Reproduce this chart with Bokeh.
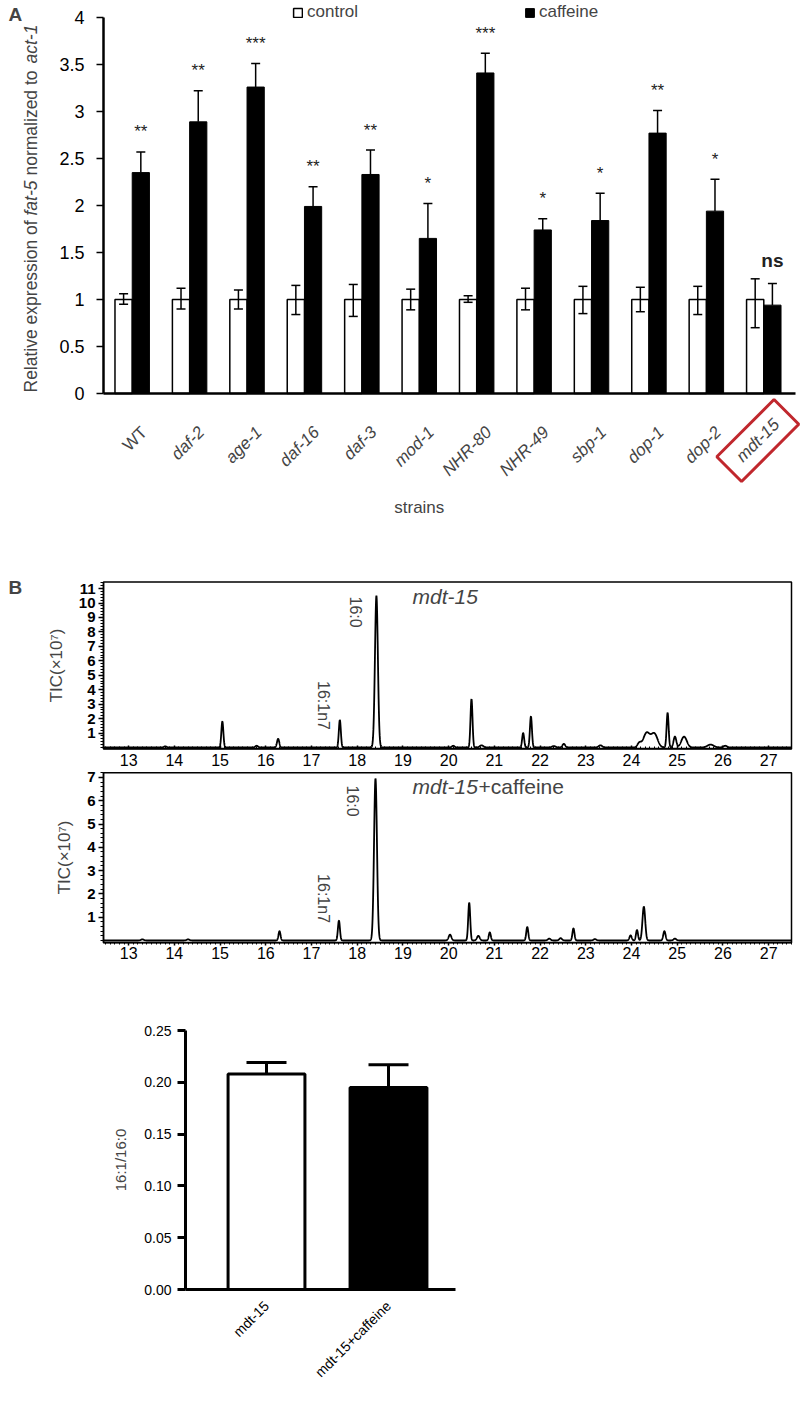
import numpy as np
from math import pi
from bokeh.plotting import figure
from bokeh.models import (ColumnDataSource, Range1d, FixedTicker, Whisker, TeeHead, Label,
                          LabelSet, Legend, LegendItem, NumeralTickFormatter,
                          CustomJSTickFormatter, BoxAnnotation, LinearAxis)
from bokeh.layouts import column
from bokeh.embed import file_html
from bokeh.resources import INLINE
from bokeh.core.properties import value

FONT = "Liberation Sans"

# ---------------- Panel A data ----------------
strains = ["WT", "daf-2", "age-1", "daf-16", "daf-3", "mod-1", "NHR-80", "NHR-49",
           "sbp-1", "dop-1", "dop-2", "mdt-15"]
control_mean = [1.0, 1.0, 1.0, 1.0, 1.0, 1.0, 1.0, 1.0, 1.0, 1.0, 1.0, 1.0]
control_err_up = [0.06, 0.12, 0.10, 0.15, 0.16, 0.11, 0.04, 0.12, 0.14, 0.13, 0.14, 0.22]
control_err_dn = [0.05, 0.10, 0.10, 0.16, 0.18, 0.11, 0.03, 0.11, 0.15, 0.13, 0.16, 0.30]
caffeine_mean = [2.35, 2.89, 3.26, 1.99, 2.33, 1.65, 3.41, 1.74, 1.84, 2.77, 1.94, 0.94]
caffeine_err = [0.22, 0.33, 0.25, 0.21, 0.26, 0.37, 0.21, 0.12, 0.29, 0.24, 0.34, 0.23]
signif = ["**", "**", "***", "**", "**", "*", "***", "*", "*", "**", "*", "ns"]
yticks_a = [0, 0.5, 1, 1.5, 2, 2.5, 3, 3.5, 4]

# ---------------- Panel B chromatogram peaks (retention time, height x10^7, width) ----------------
rt_mdt15 = [13.8, 15.05, 15.8, 16.27, 17.62, 18.42, 20.1, 20.5, 20.72, 21.63, 21.8, 22.3,
            22.52, 23.32, 24.17, 24.33, 24.5, 24.79, 24.95, 25.15, 25.73, 26.05]
h_mdt15 = [0.08, 1.8, 0.12, 0.6, 1.9, 10.5, 0.12, 3.35, 0.15, 1.0, 2.15, 0.1,
           0.25, 0.15, 0.3, 1.0, 0.95, 2.4, 0.75, 0.75, 0.2, 0.12]
w_mdt15 = [0.03, 0.022, 0.03, 0.025, 0.022, 0.032, 0.03, 0.022, 0.04, 0.022, 0.022, 0.04,
           0.03, 0.04, 0.04, 0.07, 0.07, 0.022, 0.03, 0.06, 0.07, 0.04]

rt_caf = [13.3, 14.3, 16.3, 17.6, 18.4, 20.03, 20.45, 20.65, 20.9, 21.72, 22.2, 22.45,
          22.73, 23.2, 23.98, 24.12, 24.27, 24.72, 24.95]
h_caf = [0.05, 0.05, 0.4, 0.85, 6.95, 0.25, 1.62, 0.2, 0.35, 0.58, 0.08, 0.1,
         0.52, 0.06, 0.22, 0.45, 1.45, 0.4, 0.08]
w_caf = [0.03, 0.03, 0.022, 0.022, 0.032, 0.03, 0.022, 0.03, 0.022, 0.022, 0.03, 0.03,
         0.022, 0.03, 0.025, 0.022, 0.03, 0.025, 0.03]

xticks_b = list(range(13, 28))
rt_start, rt_end = 12.45, 27.5

# ---------------- Panel B bar data ----------------
groups_b = ["mdt-15", "mdt-15+caffeine"]
ratio_b = [0.208, 0.195]
ratio_err_b = [0.011, 0.022]
yticks_b = [0.0, 0.05, 0.10, 0.15, 0.20, 0.25]

# ---------------- page geometry (pixels) ----------------
W = 800


def base_fig(width, height, xr, yr):
    p = figure(width=width, height=height, output_backend="svg", toolbar_location=None,
               x_range=xr, y_range=yr, min_border=0)
    p.grid.visible = False
    p.outline_line_color = None
    for ax in p.axis:
        ax.major_label_text_font = FONT
        ax.axis_label_text_font = FONT
        ax.axis_label_text_font_style = "normal"
        ax.major_label_text_color = "black"
    return p


# ================= Panel A =================
n = len(strains)
A_TOP, A_H = 0, 540
A_FL, A_FR = 103, 792            # plotting area left/right (page px)
A_ZERO, A_PX = 393, 94.0         # y=0 position and px per unit
sA = (A_FR - A_FL) / n
xrA = Range1d(-0.5 - A_FL / sA, -0.5 + (W - A_FL) / sA)
yrA = Range1d(-(A_TOP + A_H - A_ZERO) / A_PX, (A_ZERO - A_TOP) / A_PX)
p1 = base_fig(W, A_H, xrA, yrA)

idx = np.arange(n)
src_a = ColumnDataSource(dict(
    xc=idx - 0.15, xf=idx + 0.15,
    ctrl=control_mean, caf=caffeine_mean,
    c_up=[m + e for m, e in zip(control_mean, control_err_up)],
    c_lo=[m - e for m, e in zip(control_mean, control_err_dn)],
    f_up=[m + e for m, e in zip(caffeine_mean, caffeine_err)],
))
r_ctrl = p1.vbar(x="xc", top="ctrl", width=0.3, fill_color="white", line_color="black",
                 line_width=1.5, source=src_a)
r_caf = p1.vbar(x="xf", top="caf", width=0.3, fill_color="black", line_color="black",
                line_width=1, source=src_a)
p1.add_layout(Whisker(source=src_a, base="xc", upper="c_up", lower="c_lo", line_width=1.5,
                      upper_head=TeeHead(size=9, line_width=1.5),
                      lower_head=TeeHead(size=9, line_width=1.5), level="annotation"))
p1.add_layout(Whisker(source=src_a, base="xf", upper="f_up", lower="caf", line_width=1.5,
                      upper_head=TeeHead(size=9, line_width=1.5), lower_head=None,
                      level="annotation"))

f_up = src_a.data["f_up"]
stars_src = ColumnDataSource(dict(
    x=[v for v, s in zip(idx + 0.15, signif) if s != "ns"],
    y=[v for v, s in zip(f_up, signif) if s != "ns"],
    t=[s for s in signif if s != "ns"]))
ns_src = ColumnDataSource(dict(
    x=[v for v, s in zip(idx + 0.15, signif) if s == "ns"],
    y=[v for v, s in zip(f_up, signif) if s == "ns"],
    t=[s for s in signif if s == "ns"]))
p1.text(x="x", y="y", text="t", source=stars_src, text_align="center",
        text_baseline="alphabetic", y_offset=-20, text_font=value(FONT),
        text_font_size="17px", text_color="#222222")
p1.text(x="x", y="y", text="t", source=ns_src, text_align="center",
        text_baseline="alphabetic", y_offset=-23, text_font=value(FONT),
        text_font_size="19px", text_font_style="bold", text_color="#222222")

xa = p1.xaxis[0]
xa.fixed_location = 0
xa.bounds = (-0.5, n - 0.45)
xa.ticker = FixedTicker(ticks=[])
xa.axis_line_width = 2.5
xa.major_tick_line_color = None
xa.minor_tick_line_color = None

ya = p1.yaxis[0]
ya.fixed_location = -0.5
ya.bounds = (0, 4)
ya.ticker = FixedTicker(ticks=yticks_a)
ya.formatter = CustomJSTickFormatter(code="return tick.toString()")
ya.axis_line_width = 2.5
ya.major_tick_out = 7
ya.major_tick_in = 0
ya.major_tick_line_width = 1.5
ya.minor_tick_line_color = None
ya.major_label_text_font_size = "18px"
ya.major_label_standoff = 12

# strain labels (rotated)
lab_src = ColumnDataSource(dict(
    x=list(idx[:-1]), y=[0] * (n - 1), t=strains[:-1],
    st=["normal"] + ["italic"] * (n - 2)))
p1.add_layout(LabelSet(x="x", y="y", text="t", source=lab_src, angle=pi / 4,
                       text_align="right", text_baseline="middle", x_offset=12, y_offset=-36,
                       text_font=value(FONT), text_font_size="17px", text_font_style="st"))
p1.add_layout(Label(x=idx[-1], y=0, text=strains[-1], angle=pi / 4, text_align="center",
                    text_baseline="middle", x_offset=-6, y_offset=-47,
                    text_font=FONT, text_font_size="17px", text_font_style="italic",
                    border_line_color="#c0272d", border_line_width=3,
                    padding=dict(left=14, right=14, top=8, bottom=8)))
p1.add_layout(Label(x=5.0, y=0, y_offset=-114, text="strains", text_align="center",
                    text_baseline="middle", text_font=FONT, text_font_size="17px"))

# y axis title (mixed italic) built from pieces
ylab_parts = ["Relative expression of ", "fat-5", " normalized to ", "act-1"]
ylab_styles = ["normal", "italic", "normal", "italic"]
ylab_pos = [1, 178, 218, 330]     # px above the y=0 line
for t, s, pos in zip(ylab_parts, ylab_styles, ylab_pos):
    p1.add_layout(Label(x=30, y=0, x_units="screen", y_offset=pos, text=t,
                        angle=pi / 2, text_align="left", text_baseline="middle",
                        text_font=FONT, text_font_size="17.5px", text_font_style=s))

p1.add_layout(Label(x=8, y=4.03, x_units="screen", text="A", text_baseline="middle",
                    text_font=FONT, text_font_size="19px", text_font_style="bold"))

common_leg = dict(border_line_color=None, background_fill_alpha=0, padding=0, margin=0,
                  glyph_width=11, glyph_height=11, label_text_font=FONT,
                  label_text_font_size="17px", label_standoff=4, label_height=18)
p1.add_layout(Legend(items=[LegendItem(label="control", renderers=[r_ctrl])],
                     location=(292, A_H - 22), **common_leg))
p1.add_layout(Legend(items=[LegendItem(label="caffeine", renderers=[r_caf])],
                     location=(524, A_H - 22), **common_leg))


# ================= Panel B chromatograms =================
B_FL, B_PX = 103, (791 - 103) / (rt_end - rt_start)
MINOR_X = [round(12.5 + 0.1 * i, 2) for i in range(151)]


def chromatogram(rts, hs, ws, page_top, height, zero_page, px_unit, box_top, yticks,
                 show_x_labels):
    xr = Range1d(rt_start - B_FL / B_PX, rt_start + (W - B_FL) / B_PX)
    yr = Range1d(-(page_top + height - zero_page) / px_unit, (zero_page - page_top) / px_unit)
    p = base_fig(W, height, xr, yr)
    xg = np.linspace(rt_start, rt_end, 5000)
    yg = np.zeros_like(xg)
    for c, h, w in zip(rts, hs, ws):
        yg += h * np.exp(-0.5 * ((xg - c) / w) ** 2)
    bottom = -0.1
    p.add_layout(BoxAnnotation(left=rt_start, right=rt_end, bottom=bottom, top=box_top,
                               fill_alpha=0, line_color="black", line_alpha=1,
                               line_width=1.5))
    p.line(xg, yg, line_color="black", line_width=1.8)
    xa = p.xaxis[0]
    xa.fixed_location = bottom
    xa.bounds = (rt_start, rt_end)
    xa.ticker = FixedTicker(ticks=xticks_b, minor_ticks=MINOR_X)
    xa.axis_line_width = 1.5
    xa.major_tick_line_width = 1.5
    xa.major_label_text_font_size = "16px"
    xa.major_label_standoff = 1
    if show_x_labels:
        xa.major_tick_out = 3
        xa.major_tick_in = 0
        xa.minor_tick_out = 2
        xa.minor_tick_in = 0
    else:
        xa.major_tick_out = 0
        xa.major_tick_in = 3
        xa.minor_tick_out = 0
        xa.minor_tick_in = 2
        xa.formatter = CustomJSTickFormatter(code="return ''")
    ya = p.yaxis[0]
    ya.fixed_location = rt_start
    ya.bounds = (bottom, box_top)
    ya.ticker = FixedTicker(ticks=yticks,
                            minor_ticks=[round(0.2 * i, 2) for i in range(int(box_top / 0.2) + 1)])
    ya.axis_line_width = 1.5
    ya.major_tick_out = 5
    ya.major_tick_in = 0
    ya.minor_tick_out = 3
    ya.minor_tick_in = 0
    ya.major_tick_line_width = 1.5
    ya.major_label_text_font_size = "15px"
    ya.major_label_text_font_style = "bold"
    ya.major_label_standoff = 3
    ya.axis_label = "TIC(\u00d710\u2077)"
    ya.axis_label_text_font_size = "17px"
    ya.axis_label_standoff = 10
    return p


p2 = chromatogram(rt_mdt15, h_mdt15, w_mdt15, 540, 210, 747, 14.45, 11.45,
                  list(range(1, 12)), False)
p2.add_layout(Label(x=19.21, y=10.45, text="mdt-15", text_baseline="middle",
                    text_font=FONT, text_font_size="21px", text_font_style="italic"))
p2.add_layout(Label(x=17.96, y=10.45, text="16:0", angle=-pi / 2, text_align="left",
                    text_baseline="middle", text_font=FONT, text_font_size="16px"))
p2.add_layout(Label(x=17.26, y=4.6, text="16:1n7", angle=-pi / 2, text_align="left",
                    text_baseline="middle", text_font=FONT, text_font_size="16px"))
p2.add_layout(Label(x=8, y=11.1, x_units="screen", text="B", text_baseline="middle",
                    text_font=FONT, text_font_size="19px", text_font_style="bold"))

P3_BOX_TOP = 7.2
p3 = chromatogram(rt_caf, h_caf, w_caf, 750, 215, 940, 23.3, P3_BOX_TOP,
                  list(range(1, 8)), True)
# retention-time labels of the upper chromatogram (drawn just above the lower frame)
top_labels = LinearAxis(fixed_location=P3_BOX_TOP, bounds=(rt_start, rt_end),
                        ticker=FixedTicker(ticks=xticks_b))
top_labels.axis_line_color = None
top_labels.major_tick_line_color = None
top_labels.minor_tick_line_color = None
top_labels.major_label_text_font = FONT
top_labels.major_label_text_font_size = "16px"
top_labels.major_label_text_color = "black"
top_labels.major_label_standoff = 1
p3.add_layout(top_labels, "above")

p3.add_layout(Label(x=19.21, y=6.6, text="mdt-15", text_baseline="middle",
                    text_font=FONT, text_font_size="21px", text_font_style="italic"))
p3.add_layout(Label(x=19.21, y=6.6, x_offset=66, text="+caffeine", text_baseline="middle",
                    text_font=FONT, text_font_size="21px"))
p3.add_layout(Label(x=17.9, y=6.65, text="16:0", angle=-pi / 2, text_align="left",
                    text_baseline="middle", text_font=FONT, text_font_size="16px"))
p3.add_layout(Label(x=17.26, y=2.85, text="16:1n7", angle=-pi / 2, text_align="left",
                    text_baseline="middle", text_font=FONT, text_font_size="16px"))

# ================= Panel B bar chart =================
C_TOP, C_H, C_W = 965, 439, 480
C_X0, C_PX = 266, 122.0           # page x of first bar centre, px per bar slot
C_ZERO, C_YPX = 1289, 1036.0       # page y of 0 and px per unit
C_AXL, C_AXR = 185, 455            # axis extents (page x)
xrC = Range1d(-C_X0 / C_PX, (C_W - C_X0) / C_PX)
yrC = Range1d(-(C_TOP + C_H - C_ZERO) / C_YPX, (C_ZERO - C_TOP) / C_YPX)
p4 = base_fig(C_W, C_H, xrC, yrC)
xb = list(range(len(groups_b)))
src_b = ColumnDataSource(dict(x=xb, top=ratio_b,
                              up=[r + e for r, e in zip(ratio_b, ratio_err_b)],
                              fill=["white", "black"]))
p4.vbar(x="x", top="top", width=0.63, fill_color="fill", line_color="black", line_width=3,
        source=src_b)
p4.add_layout(Whisker(source=src_b, base="x", upper="up", lower="top", line_width=3,
                      upper_head=TeeHead(size=40, line_width=3), lower_head=None,
                      level="annotation"))
xa = p4.xaxis[0]
xa.fixed_location = 0
xa.bounds = ((C_AXL - C_X0) / C_PX, (C_AXR - C_X0) / C_PX)
xa.ticker = FixedTicker(ticks=xb)
xa.major_label_overrides = {i: g for i, g in zip(xb, groups_b)}
xa.major_label_orientation = pi / 4
xa.major_tick_line_color = None
xa.minor_tick_line_color = None
xa.axis_line_width = 3
xa.major_label_text_font_size = "14px"
xa.major_label_standoff = 8
ya = p4.yaxis[0]
ya.fixed_location = (C_AXL - C_X0) / C_PX
ya.bounds = (0, 0.25)
ya.ticker = FixedTicker(ticks=yticks_b)
ya.formatter = NumeralTickFormatter(format="0.00")
ya.axis_line_width = 3
ya.major_tick_out = 8
ya.major_tick_in = 0
ya.major_tick_line_width = 3
ya.minor_tick_line_color = None
ya.major_label_text_font_size = "14px"
ya.major_label_standoff = 6
ya.axis_label = "16:1/16:0"
ya.axis_label_text_font_size = "15px"
ya.axis_label_standoff = 12

layout = column(p1, p2, p3, p4, spacing=0)
open("out.html", "w").write(file_html(layout, INLINE))
